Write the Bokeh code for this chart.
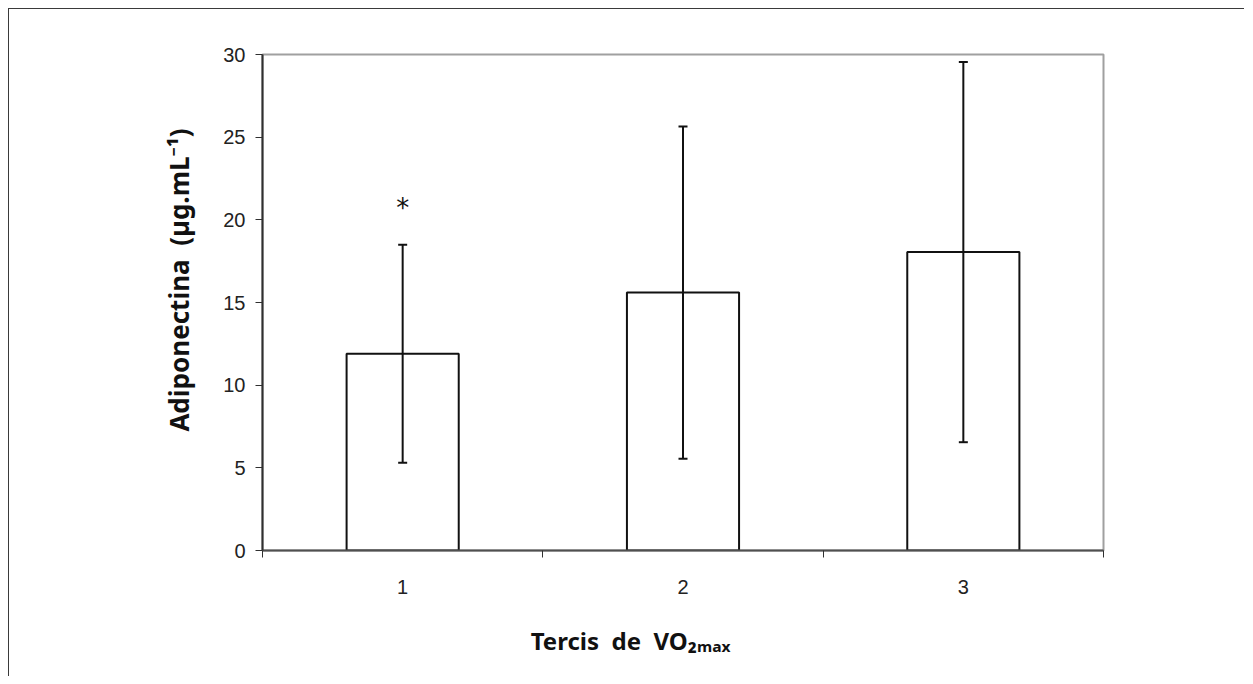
import math
from bokeh.plotting import figure
from bokeh.models import Range1d, FixedTicker, Whisker, ColumnDataSource, TeeHead, Label
from bokeh.embed import file_html
from bokeh.resources import INLINE
from bokeh.core.properties import value

# ---- data ----
categories = ["1", "2", "3"]
positions = [1, 2, 3]
means = [11.9, 15.6, 18.05]
sds = [6.6, 10.05, 11.5]
significance = ["*", "", ""]
y_ticks = [0, 5, 10, 15, 20, 25, 30]
x_label = "Tercis\u00a0\u00a0de\u00a0\u00a0VO₂ₘₐₓ"
y_label = "Adiponectina\u00a0\u00a0(µg.mL⁻¹)"

lower = [m - s for m, s in zip(means, sds)]
upper = [m + s for m, s in zip(means, sds)]
src = ColumnDataSource(dict(x=positions, top=means, lower=lower, upper=upper))
sig_src = ColumnDataSource(dict(x=positions, y=[u + 2.2 for u in upper], t=significance))

p = figure(width=1236, height=668,
           x_range=Range1d(0.5, 3.5), y_range=Range1d(0, 30),
           output_backend="svg", toolbar_location=None,
           min_border_left=253, min_border_top=45,
           min_border_right=142, min_border_bottom=127)
p.styles = {"margin-left": "8px", "margin-top": "8px",
            "border-top": "1px solid #3a3a3a", "border-left": "1px solid #3a3a3a"}

p.xgrid.visible = False
p.ygrid.visible = False
p.outline_line_color = "#a0a0a0"
p.outline_line_width = 2

p.vbar(x="x", top="top", width=0.4, bottom=0, source=src,
       fill_color="white", line_color="#111111", line_width=2)

w = Whisker(source=src, base="x", upper="upper", lower="lower",
            line_color="#111111", line_width=2, level="overlay",
            upper_head=TeeHead(size=9, line_color="#111111", line_width=2),
            lower_head=TeeHead(size=9, line_color="#111111", line_width=2))
p.add_layout(w)

p.text(x="x", y="y", text="t", source=sig_src, text_align="center",
       text_baseline="middle", text_font=value("DejaVu Sans"),
       text_font_size="26px", text_color="#111111")

# y axis
ya = p.yaxis[0]
ya.ticker = FixedTicker(ticks=y_ticks)
ya.axis_line_color = "#303030"
ya.axis_line_width = 2
ya.major_tick_line_color = "#303030"
ya.major_tick_out = 7
ya.major_tick_in = 0
ya.minor_tick_line_color = None
ya.major_label_text_font = "Liberation Sans"
ya.major_label_text_font_size = "20px"
ya.major_label_text_color = "#222222"
ya.major_label_standoff = 10

# x axis
xa = p.xaxis[0]
xa.ticker = FixedTicker(ticks=positions, minor_ticks=[0.5, 1.5, 2.5, 3.5])
xa.major_label_overrides = {pos: c for pos, c in zip(positions, categories)}
xa.axis_line_color = "#505050"
xa.axis_line_width = 2
xa.major_tick_line_color = None
xa.minor_tick_line_color = "#303030"
xa.minor_tick_out = 7
xa.minor_tick_in = 0
xa.major_label_text_font = "Liberation Sans"
xa.major_label_text_font_size = "20px"
xa.major_label_text_color = "#222222"
xa.major_label_standoff = 22

xlab = Label(x=1.813, y=-27, x_units="data", y_units="screen", text=x_label,
             text_align="center", text_baseline="bottom",
             text_font="Noto Sans", text_font_style="bold",
             text_font_size="24px", text_color="#111111")
p.add_layout(xlab, "below")

ylab = Label(x=-6, y=16.36, x_units="screen", y_units="data", text=y_label,
             angle=math.pi / 2, text_align="center", text_baseline="middle",
             text_font="Noto Sans", text_font_style="bold",
             text_font_size="26px", text_color="#111111")
p.add_layout(ylab, "left")

open("out.html", "w").write(file_html(p, INLINE))
